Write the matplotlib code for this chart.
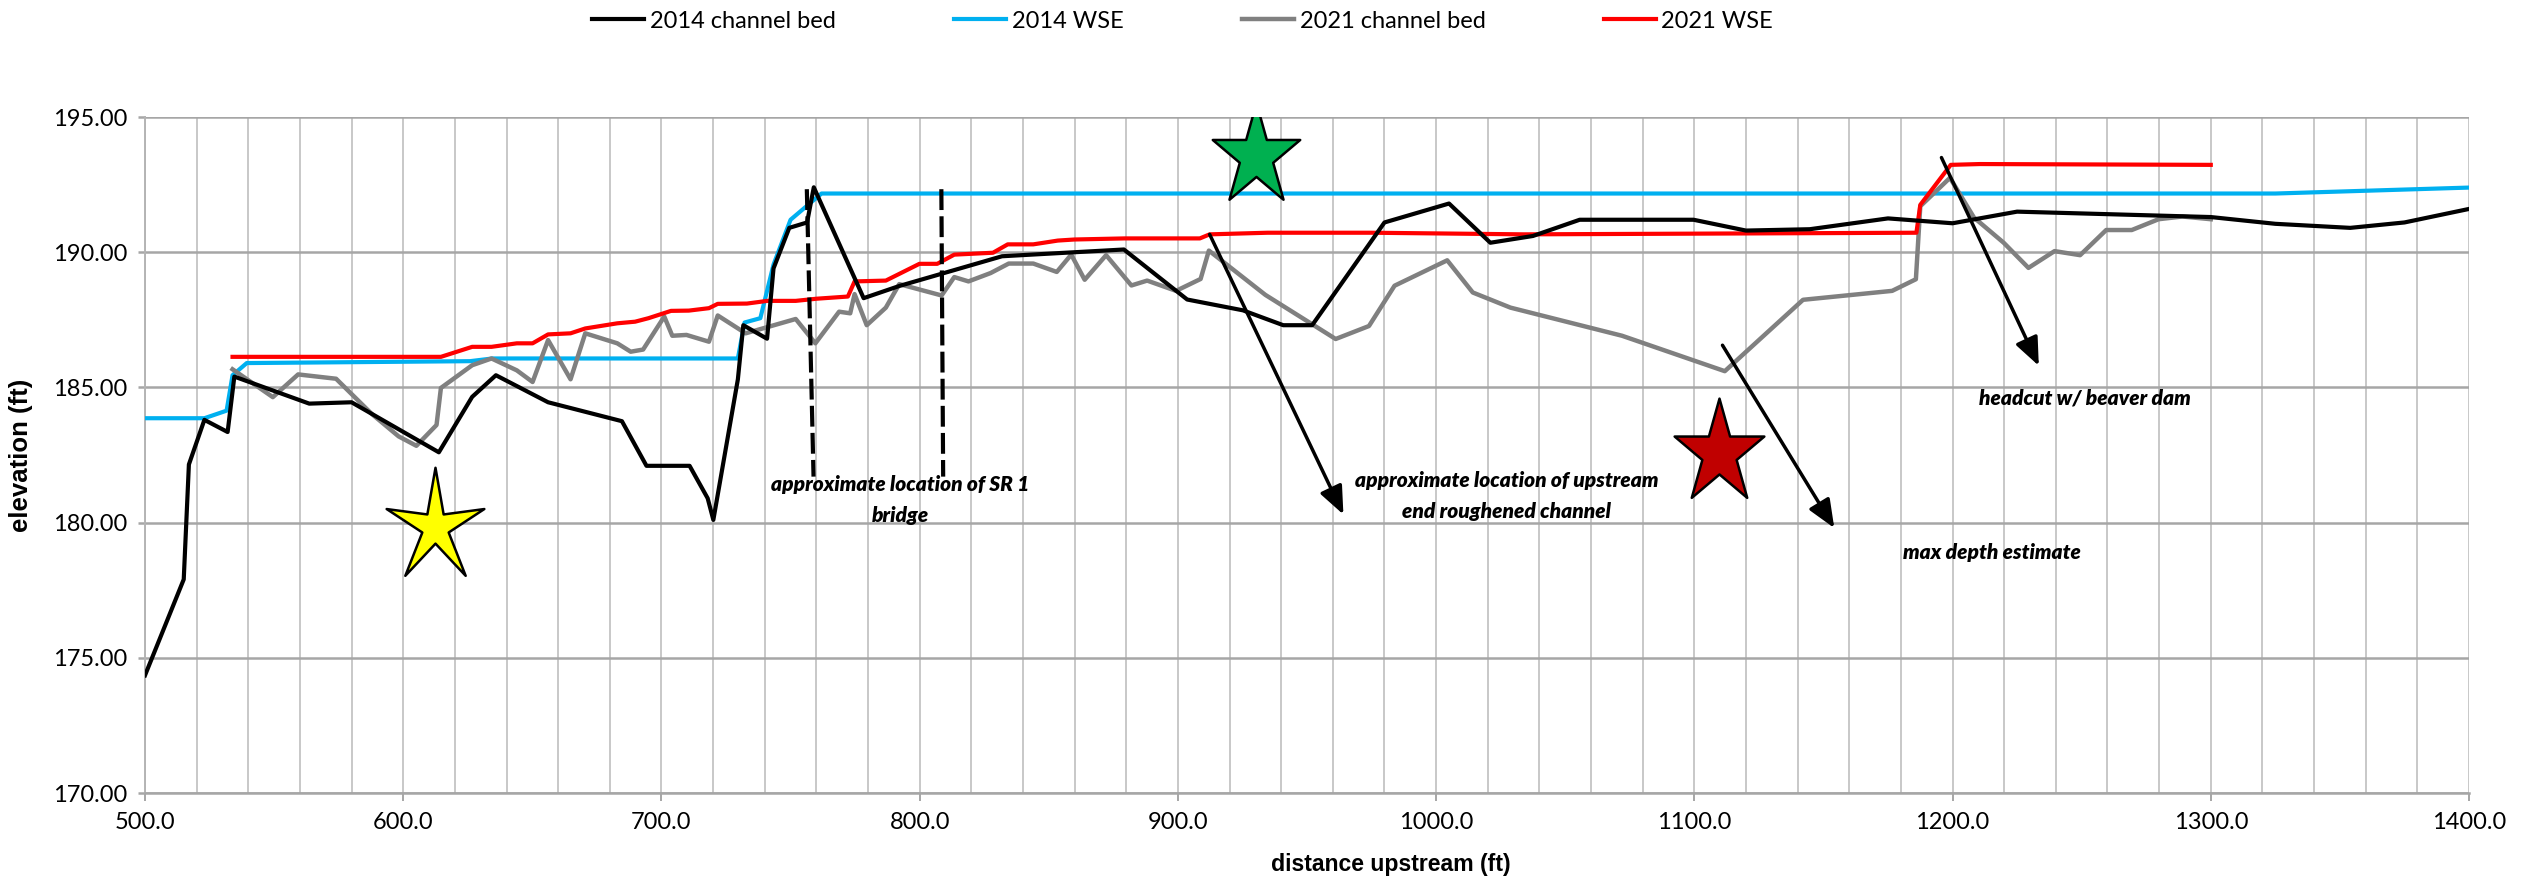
import numpy as np
import matplotlib
matplotlib.use("Agg")
import matplotlib.pyplot as plt
from matplotlib.path import Path
from matplotlib.ticker import FormatStrFormatter, MultipleLocator

# ---------------------------------------------------------------------------
# profile data (distance upstream ft, elevation ft)
# ---------------------------------------------------------------------------
bed_2014_x = [500, 515, 517, 523, 532, 534.6, 563.6, 580, 613.8, 626.7, 635.9,
              656.1, 684.7, 694.2, 710.9, 717.9, 720.1, 729.6, 731.7, 740.9,
              743.4, 749.5, 756.4, 759, 778.3, 792.1, 831.9, 879.1, 903.6,
              925.2, 940.8, 952, 980, 1005, 1021, 1037.5, 1055.6, 1099.7, 1120,
              1144.7, 1175, 1200, 1225, 1300, 1325, 1354, 1375, 1400]
bed_2014_y = [174.35, 177.9, 182.15, 183.8, 183.35, 185.4, 184.4, 184.45, 182.6,
              184.65, 185.45, 184.45, 183.75, 182.1, 182.1, 180.9, 180.1, 185.3,
              187.3, 186.8, 189.4, 190.9, 191.1, 192.4, 188.3, 188.75, 189.85,
              190.1, 188.25, 187.85, 187.3, 187.3, 191.1, 191.8, 190.35, 190.6,
              191.2, 191.2, 190.8, 190.85, 191.25, 191.07, 191.5, 191.3, 191.05,
              190.9, 191.1, 191.6]

wse_2014_x = [500, 523, 531.6, 533.9, 539.4, 625.9, 634.5, 729.6, 732.2, 738.3,
              743.4, 750, 757.4, 762, 1325, 1400]
wse_2014_y = [183.86, 183.86, 184.14, 185.45, 185.9, 185.97, 186.07, 186.07,
              187.4, 187.56, 189.54, 191.2, 191.8, 192.17, 192.17, 192.39]

bed_2021_x = [533.9, 549.5, 559.3, 574, 587.8, 598.2, 605.1, 612.9, 614.6, 626.7,
              634.2, 644, 650.1, 656.1, 664.8, 670.5, 682.9, 688.1, 692.9, 701.1,
              704.2, 709.7, 718.4, 721.8, 732.6, 752, 759.6, 768.8, 773.1, 774.8,
              779.5, 786.9, 792.1, 808.5, 813.4, 818.9, 827.5, 834.5, 844, 853.1,
              858.7, 863.9, 872.2, 882, 888.1, 899.3, 908.8, 912, 933.9, 952.1,
              961.1, 974, 983.9, 1004.3, 1014.2, 1028.8, 1072, 1111.8, 1142.1,
              1176.6, 1185.8, 1187.5, 1199, 1208.3, 1219.8, 1229.4, 1239.5,
              1249.4, 1259.5, 1269.4, 1279.8, 1289, 1300]
bed_2021_y = [185.67, 184.64, 185.48, 185.32, 184.02, 183.19, 182.84, 183.61,
              184.98, 185.82, 186.07, 185.63, 185.2, 186.75, 185.3, 187.0, 186.63,
              186.32, 186.4, 187.62, 186.91, 186.94, 186.69, 187.66, 187.0,
              187.53, 186.63, 187.8, 187.74, 188.45, 187.3, 187.95, 188.82, 188.4,
              189.08, 188.92, 189.23, 189.58, 189.58, 189.27, 189.91, 188.98,
              189.89, 188.77, 188.95, 188.57, 189.01, 190.06, 188.42, 187.33,
              186.79, 187.27, 188.76, 189.7, 188.51, 187.95, 186.91, 185.6, 188.24,
              188.57, 189.0, 191.7, 192.75, 191.28, 190.35, 189.42, 190.04, 189.89,
              190.82, 190.82, 191.22, 191.32, 191.22]

wse_2021_x = [533.9, 614.6, 626.7, 634.2, 644, 650.1, 656.1, 664.8, 670.5, 682.9,
              689.8, 695, 703.7, 710.6, 718.4, 721.8, 733.1, 741, 752, 760.1,
              772.2, 774.8, 786.9, 799.9, 806.8, 813.4, 828.4, 834.1, 844, 853.5,
              860, 879.4, 908.5, 912.3, 934.8, 975, 1034, 1186, 1187.5, 1199.3,
              1210.6, 1300]
wse_2021_y = [186.13, 186.13, 186.5, 186.5, 186.63, 186.63, 186.96, 187.0, 187.18,
              187.37, 187.43, 187.56, 187.83, 187.84, 187.93, 188.09, 188.1, 188.2,
              188.2, 188.28, 188.36, 188.92, 188.95, 189.57, 189.57, 189.91,
              189.98, 190.29, 190.29, 190.43, 190.47, 190.51, 190.51, 190.66,
              190.72, 190.72, 190.66, 190.72, 191.75, 193.23, 193.26, 193.23]

# annotation shapes, in data units
bridge_x = [(756.3, 758.9), (808.4, 809.1)]
bridge_y = (192.33, 181.7)
arrows = [((912.3, 190.66), (964.1, 180.3)),
          ((1110.9, 186.56), (1154.2, 179.8)),
          ((1195.7, 193.5), (1233.4, 185.8))]
notes = [(792.4, 180.85, "approximate location of SR 1\nbridge"),
         (1027.3, 181.0, "approximate location of upstream\nend roughened channel"),
         (1215.2, 178.9, "max depth estimate"),
         (1251.4, 184.6, "headcut w/ beaver dam")]
stars = [(612.2, 179.85, "#FFFF00", 0.27, 86),
         (930.1, 193.54, "#00B050", 0.382, 77),
         (1109.5, 182.57, "#C00000", 0.382, 79)]

FONT = ["Lato", "DejaVu Sans"]
LABEL_FONT = ["Liberation Sans", "DejaVu Sans"]


def _star(inner, squash=0.86):
    ang = np.pi / 2 + np.arange(10) * np.pi / 5
    rad = np.where(np.arange(10) % 2 == 0, 1.0, inner)
    verts = np.column_stack([rad * np.cos(ang) * squash, rad * np.sin(ang)])
    verts = np.vstack([verts, verts[:1]])
    codes = [Path.MOVETO] + [Path.LINETO] * 9 + [Path.CLOSEPOLY]
    return Path(verts, codes)


fig = plt.figure(figsize=(25.22, 8.86), dpi=100)
ax = fig.add_axes([145 / 2522, 1 - 793 / 886, 2324 / 2522, 676 / 886])

ax.plot(bed_2014_x, bed_2014_y, color="black", lw=3, label="2014 channel bed", zorder=4)
ax.plot(wse_2014_x, wse_2014_y, color="#00B0F0", lw=3, label="2014 WSE", zorder=3)
ax.plot(bed_2021_x, bed_2021_y, color="#808080", lw=3.2, label="2021 channel bed", zorder=3)
ax.plot(wse_2021_x, wse_2021_y, color="#FF0000", lw=3, label="2021 WSE", zorder=3)

for bx in bridge_x:
    ax.plot(bx, bridge_y, color="black", lw=3, linestyle=(0, (5, 1.5)), zorder=5)

for start, tip in arrows:
    ax.annotate("", xy=tip, xytext=start,
                arrowprops=dict(arrowstyle="-|>,head_length=0.95,head_width=0.4",
                                color="black", lw=2.5, mutation_scale=18,
                                shrinkA=0, shrinkB=0), zorder=5)

for nx, ny, txt in notes:
    ax.text(nx, ny, txt, ha="center", va="center", fontsize=15,
            fontweight="heavy", fontstyle="italic", family=FONT,
            linespacing=1.75, zorder=6)

for sx, sy, col, inner, ms in stars:
    ax.plot([sx], [sy], marker=_star(inner), markersize=ms, color=col,
            markeredgecolor="black", markeredgewidth=1.8, linestyle="none",
            zorder=7)

ax.set_xlim(500, 1400)
ax.set_ylim(170, 195)
ax.xaxis.set_major_locator(MultipleLocator(100))
ax.xaxis.set_minor_locator(MultipleLocator(20))
ax.yaxis.set_major_locator(MultipleLocator(5))
ax.xaxis.set_major_formatter(FormatStrFormatter("%.1f"))
ax.yaxis.set_major_formatter(FormatStrFormatter("%.2f"))
ax.set_axisbelow(True)
ax.grid(axis="x", which="both", color="#C8C8C8", lw=1.4)
ax.grid(axis="y", which="major", color="#A6A6A6", lw=1.8)
for side in ("top", "right"):
    ax.spines[side].set_visible(False)
ax.spines["left"].set_color("#B4B4B4")
ax.spines["left"].set_linewidth(1.4)
ax.spines["bottom"].set_color("#A6A6A6")
ax.spines["bottom"].set_linewidth(1.8)
ax.tick_params(axis="x", which="major", length=6, width=1.4, color="#A6A6A6",
               labelsize=17, pad=8)
ax.tick_params(axis="x", which="minor", length=0)
ax.tick_params(axis="y", length=5, width=1.8, color="#A6A6A6", labelsize=17, pad=8)
for lab in ax.get_xticklabels() + ax.get_yticklabels():
    lab.set_family(FONT)

fig.text(1391 / 2522, 1 - 864 / 886, "distance upstream (ft)", ha="center",
         va="center", fontsize=16.6, fontweight="bold", family=LABEL_FONT)
fig.text(21 / 2522, 0.5 * ((1 - 793 / 886) + (1 - 117 / 886)), "elevation (ft)",
         ha="center", va="center", rotation=90, fontsize=18.5, fontweight="bold",
         family=LABEL_FONT)

fig.legend(loc="center", bbox_to_anchor=(0.469, 1 - 21 / 886), ncol=4,
           frameon=False, prop={"family": FONT, "size": 17},
           handlelength=2.2, handletextpad=0.25, columnspacing=5.0)

fig.savefig("out.png")
